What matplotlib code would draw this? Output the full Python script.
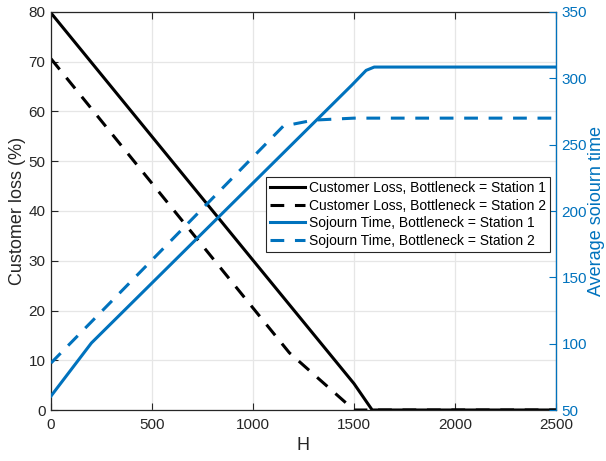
import numpy as np
import matplotlib
matplotlib.use("Agg")
import matplotlib.pyplot as plt

plt.rcParams['font.family'] = ['Liberation Sans', 'DejaVu Sans']

# customer loss (%) vs H
h_loss1 = [0, 1000, 1500, 1590, 2500]
loss1 = [79.8, 30.1, 5.3, 0, 0]
h_loss2 = [0, 1000, 1180, 1500, 2500]
loss2 = [70.6, 20.5, 11.5, 0, 0]

# average sojourn time vs H
h_soj1 = [0, 200, 1490, 1560, 1600, 2500]
soj1 = [60.5, 100.5, 295, 306, 308.5, 308.5]
h_soj2 = [0, 1150, 1300, 1500, 2500]
soj2 = [85.4, 264, 268.5, 270, 270]

labels = ['Customer Loss, Bottleneck = Station 1',
          'Customer Loss, Bottleneck = Station 2',
          'Sojourn Time, Bottleneck = Station 1',
          'Sojourn Time, Bottleneck = Station 2']

blue = '#0072BD'
dark = '#262626'
lw = 2.2
dash = (4.5, 3.5)

fig = plt.figure(figsize=(6.06, 4.61), dpi=100)
ax = fig.add_axes([51/606, 1 - 410/461, 505/606, 398/461])

l1, = ax.plot(h_loss1, loss1, color='black', lw=lw, label=labels[0])
l2, = ax.plot(h_loss2, loss2, color='black', lw=lw, dashes=dash, label=labels[1])
ax.set_xlim(0, 2500)
ax.set_ylim(0, 80)
ax.set_xticks(np.arange(0, 2501, 500))
ax.set_yticks(np.arange(0, 81, 10))
ax.grid(True, color='#e6e6e6', lw=0.9)
ax.set_axisbelow(True)
ax.tick_params(axis='x', direction='in', top=True, length=5, labelsize=11, colors=dark, pad=6)
ax.tick_params(axis='y', direction='in', length=5, labelsize=11, colors=dark, pad=4)
ax.set_xlabel('H', fontsize=13, color=dark, labelpad=3)
ax.set_ylabel('Customer loss (%)', fontsize=13, color=dark, labelpad=2)
for s in ['left', 'bottom', 'top']:
    ax.spines[s].set_color(dark)
    ax.spines[s].set_linewidth(0.9)

ax2 = ax.twinx()
l3, = ax2.plot(h_soj1, soj1, color=blue, lw=lw, label=labels[2])
l4, = ax2.plot(h_soj2, soj2, color=blue, lw=lw, dashes=dash, label=labels[3])
ax2.set_ylim(50, 350)
ax2.set_yticks(np.arange(50, 351, 50))
ax2.tick_params(axis='y', direction='in', length=5, labelsize=11, colors=blue, pad=4)
ax2.set_ylabel('Average soiourn time', fontsize=13, color=blue, labelpad=1)
ax2.spines['right'].set_color(blue)
ax2.spines['right'].set_linewidth(0.9)
for s in ['left', 'bottom', 'top']:
    ax2.spines[s].set_visible(False)

leg = ax2.legend(handles=[l1, l2, l3, l4], loc='upper left',
                 bbox_to_anchor=((266 - 51) / 505, (410 - 177) / 398),
                 borderaxespad=0, fontsize=10, fancybox=False, framealpha=1,
                 edgecolor=dark, handlelength=2.5, handletextpad=0.3,
                 borderpad=0.3, labelspacing=0.25)
leg.get_frame().set_linewidth(0.8)

fig.savefig('out.png', dpi=100)
